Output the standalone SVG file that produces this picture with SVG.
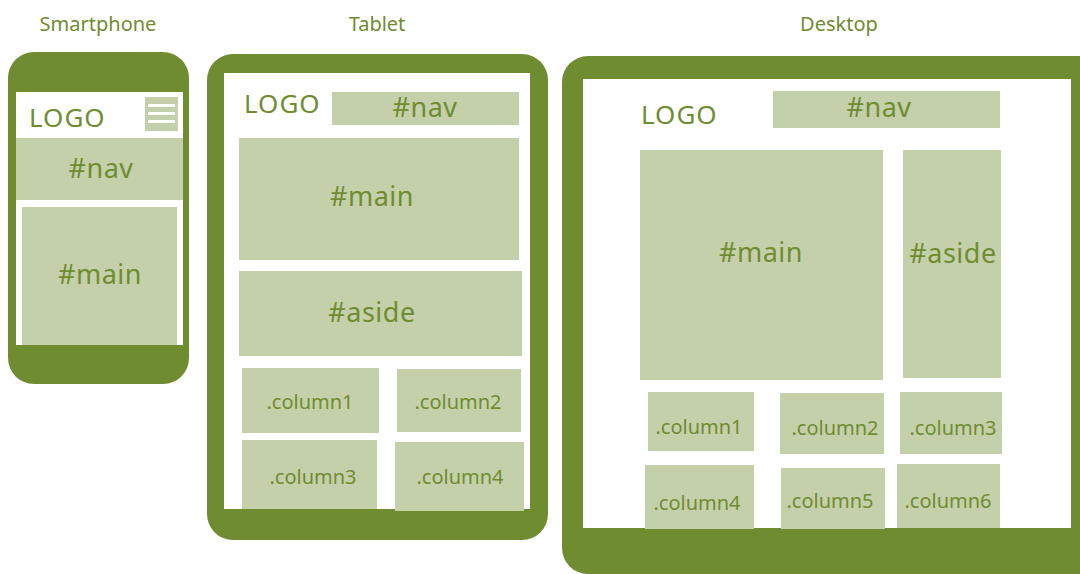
<svg xmlns="http://www.w3.org/2000/svg" width="1080" height="574" viewBox="0 0 1080 574">
  <style>
    .bezel { fill: #6f8c31; }
    .screen { fill: #ffffff; }
    .box { fill: #c4d0a9; }
    .title { font-family: "Noto Sans", "Liberation Sans", sans-serif; font-size: 20px; fill: #6f8c31; text-anchor: middle; }
    .logo { font-family: "Noto Sans", "Liberation Sans", sans-serif; font-size: 26px; fill: #6f8c31; letter-spacing: 1px; }
    .big { font-family: "Noto Sans", "Liberation Sans", sans-serif; font-size: 27px; fill: #6f8c31; text-anchor: middle; letter-spacing: 0.5px; }
    .col { font-family: "Noto Sans", "Liberation Sans", sans-serif; font-size: 20px; fill: #6f8c31; text-anchor: middle; }
  </style>

  <rect width="1080" height="574" fill="#ffffff"/>

  <!-- Device titles -->
  <g id="titles">
    <text class="title" x="98" y="31">Smartphone</text>
    <text class="title" x="377" y="31">Tablet</text>
    <text class="title" x="839" y="31">Desktop</text>
  </g>

  <!-- Smartphone layout -->
  <g id="smartphone">
    <rect class="bezel" x="8" y="52" width="181" height="332" rx="26"/>
    <rect class="screen" x="16" y="92" width="167" height="253"/>
    <text class="logo" x="29" y="127">LOGO</text>
    <g id="phone-menu">
      <rect class="box" x="145" y="97" width="33" height="34"/>
      <rect fill="#ffffff" x="148" y="104" width="27" height="3"/>
      <rect fill="#ffffff" x="148" y="112" width="27" height="3"/>
      <rect fill="#ffffff" x="148" y="120" width="27" height="3"/>
    </g>
    <g id="phone-nav">
      <rect class="box" x="16" y="138" width="167" height="62"/>
      <text class="big" x="101" y="178">#nav</text>
    </g>
    <g id="phone-main">
      <rect class="box" x="22" y="207" width="155" height="138"/>
      <text class="big" x="100" y="284">#main</text>
    </g>
  </g>

  <!-- Tablet layout -->
  <g id="tablet">
    <rect class="bezel" x="207" y="54" width="341" height="486" rx="26"/>
    <rect class="screen" x="224" y="73" width="306" height="436"/>
    <text class="logo" x="244" y="113">LOGO</text>
    <g id="tablet-nav">
      <rect class="box" x="332" y="92" width="187" height="33"/>
      <text class="big" x="425" y="117">#nav</text>
    </g>
    <g id="tablet-main">
      <rect class="box" x="239" y="138" width="280" height="122"/>
      <text class="big" x="372" y="206">#main</text>
    </g>
    <g id="tablet-aside">
      <rect class="box" x="239" y="271" width="283" height="85"/>
      <text class="big" x="372" y="322">#aside</text>
    </g>
    <g id="tablet-column1">
      <rect class="box" x="242" y="368" width="137" height="65"/>
      <text class="col" x="310" y="409">.column1</text>
    </g>
    <g id="tablet-column2">
      <rect class="box" x="397" y="369" width="124" height="63"/>
      <text class="col" x="458" y="409">.column2</text>
    </g>
    <g id="tablet-column3">
      <rect class="box" x="242" y="440" width="135" height="69"/>
      <text class="col" x="313" y="484">.column3</text>
    </g>
    <g id="tablet-column4">
      <rect class="box" x="395" y="442" width="129" height="69"/>
      <text class="col" x="460" y="484">.column4</text>
    </g>
  </g>

  <!-- Desktop layout -->
  <g id="desktop">
    <rect class="bezel" x="562" y="56" width="545" height="518" rx="26"/>
    <rect class="screen" x="583" y="79" width="488" height="449"/>
    <text class="logo" x="641" y="124">LOGO</text>
    <g id="desktop-nav">
      <rect class="box" x="773" y="91" width="227" height="37"/>
      <text class="big" x="879" y="117">#nav</text>
    </g>
    <g id="desktop-main">
      <rect class="box" x="640" y="150" width="243" height="230"/>
      <text class="big" x="761" y="262">#main</text>
    </g>
    <g id="desktop-aside">
      <rect class="box" x="903" y="150" width="98" height="228"/>
      <text class="big" x="953" y="263">#aside</text>
    </g>
    <g id="desktop-column1">
      <rect class="box" x="648" y="392" width="106" height="59"/>
      <text class="col" x="699" y="434">.column1</text>
    </g>
    <g id="desktop-column2">
      <rect class="box" x="780" y="393" width="104" height="61"/>
      <text class="col" x="835" y="435">.column2</text>
    </g>
    <g id="desktop-column3">
      <rect class="box" x="900" y="392" width="102" height="62"/>
      <text class="col" x="953" y="435">.column3</text>
    </g>
    <g id="desktop-column4">
      <rect class="box" x="645" y="465" width="109" height="64"/>
      <text class="col" x="697" y="510">.column4</text>
    </g>
    <g id="desktop-column5">
      <rect class="box" x="781" y="468" width="104" height="61"/>
      <text class="col" x="830" y="508">.column5</text>
    </g>
    <g id="desktop-column6">
      <rect class="box" x="897" y="464" width="103" height="64"/>
      <text class="col" x="948" y="508">.column6</text>
    </g>
  </g>

  <!-- No connectors in this layout diagram -->
  <g id="connectors"/>
</svg>
